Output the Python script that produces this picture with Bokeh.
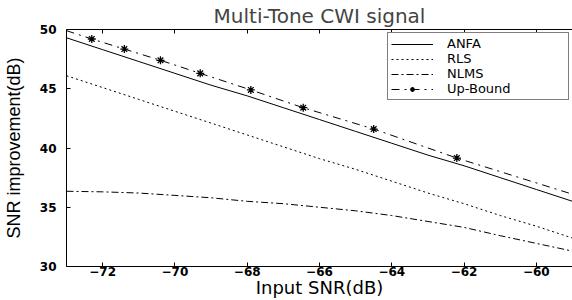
from bokeh.plotting import figure
from bokeh.models import LinearAxis, Range1d, FixedTicker, Legend, LegendItem, CustomJSTickFormatter
from bokeh.embed import file_html
from bokeh.resources import INLINE

# Data
snr = [-73, -72, -71, -70, -69, -68, -67, -66, -65, -64, -63, -62, -61, -60, -59]
anfa = [49.3, 48.3, 47.3, 46.3, 45.3, 44.4, 43.4, 42.4, 41.4, 40.4, 39.4, 38.5, 37.5, 36.5, 35.5]
rls = [46.1, 45.1, 44.1, 43.1, 42.1, 41.1, 40.1, 39.1, 38.2, 37.2, 36.2, 35.3, 34.3, 33.4, 32.4]
nlms = [36.35, 36.3, 36.2, 36.0, 35.8, 35.5, 35.3, 35.0, 34.7, 34.3, 33.8, 33.3, 32.6, 31.95, 31.3]
ub_x = [-73, -72.3, -71.4, -70.4, -69.3, -67.9, -66.45, -64.5, -62.2, -59]
ub_y = [49.9, 49.2, 48.35, 47.4, 46.3, 44.9, 43.4, 41.6, 39.15, 36.1]
ub_mx = [-72.3, -71.4, -70.4, -69.3, -67.9, -66.45, -64.5, -62.2]
ub_my = [49.2, 48.35, 47.4, 46.3, 44.9, 43.4, 41.6, 39.15]
x_ticks = [-72, -70, -68, -66, -64, -62, -60]
y_ticks = [30, 35, 40, 45, 50]

FONT = "DejaVu Sans"

p = figure(width=572, height=300, output_backend="svg", toolbar_location=None,
           x_range=Range1d(-73, -59), y_range=Range1d(30, 50),
           min_border=0,
           min_border_left=63, min_border_right=0, min_border_top=29, min_border_bottom=34,
           title="Multi-Tone CWI signal")
p.title.align = "center"
p.title.text_font = FONT
p.title.text_font_size = "20px"
p.title.text_font_style = "normal"
p.title.offset = 0
p.title.standoff = 3
p.outline_line_color = None
p.grid.visible = False
p.background_fill_color = "white"
p.border_fill_color = "white"

for ax in (p.xaxis[0], p.yaxis[0]):
    ax.major_tick_in = 4
    ax.major_tick_out = 0
    ax.minor_tick_line_color = None
    ax.axis_line_color = "black"
    ax.major_tick_line_color = "black"
    ax.major_label_text_font = FONT
    ax.major_label_text_font_style = "bold"
    ax.major_label_text_font_size = "12px"
    ax.major_label_text_color = "black"
    ax.axis_label_text_font_style = "normal"
    ax.axis_label_text_color = "black"

p.xaxis[0].ticker = FixedTicker(ticks=x_ticks)
p.yaxis[0].ticker = FixedTicker(ticks=y_ticks)
p.xaxis[0].axis_label = "Input SNR(dB)"
p.xaxis[0].axis_label_text_font = FONT
p.xaxis[0].axis_label_text_font_size = "18px"
p.yaxis[0].axis_label = "SNR improvement(dB)"
p.yaxis[0].axis_label_text_font = "Liberation Sans"
p.yaxis[0].axis_label_text_font_size = "18px"
p.xaxis[0].major_label_standoff = 0
p.xaxis[0].axis_label_standoff = -2
p.yaxis[0].major_label_standoff = 10
p.yaxis[0].axis_label_standoff = 13

top = LinearAxis(ticker=FixedTicker(ticks=x_ticks), major_tick_in=4, major_tick_out=0,
                 minor_tick_line_color=None,
                 formatter=CustomJSTickFormatter(code="return ''"),
                 major_label_standoff=0, axis_line_color="black")
p.add_layout(top, "above")

r_anfa = p.line(snr, anfa, line_color="black", line_width=1)
r_rls = p.line(snr, rls, line_color="black", line_width=1, line_dash="2 3")
r_nlms = p.line(snr, nlms, line_color="black", line_width=1, line_dash="7 3 2 3")
r_ub = p.line(ub_x, ub_y, line_color="black", line_width=1, line_dash="8 5 2 5")
r_ubm = p.scatter(ub_mx, ub_my, marker="asterisk", size=8, line_color="black", line_width=1.3)

legend = Legend(items=[
    LegendItem(label="ANFA", renderers=[r_anfa]),
    LegendItem(label="RLS", renderers=[r_rls]),
    LegendItem(label="NLMS", renderers=[r_nlms]),
    LegendItem(label="Up-Bound", renderers=[r_ub, r_ubm]),
], location="top_right")
legend.margin = 3
legend.padding = 3
legend.spacing = 0
legend.glyph_width = 42
legend.glyph_height = 12
legend.label_height = 12
legend.label_width = 118
legend.label_standoff = 14
legend.label_text_font = FONT
legend.label_text_font_size = "13px"
legend.label_text_color = "black"
legend.border_line_color = "black"
legend.border_line_width = 1
legend.background_fill_alpha = 1
p.add_layout(legend, "center")

open("out.html", "w").write(file_html(p, INLINE))
